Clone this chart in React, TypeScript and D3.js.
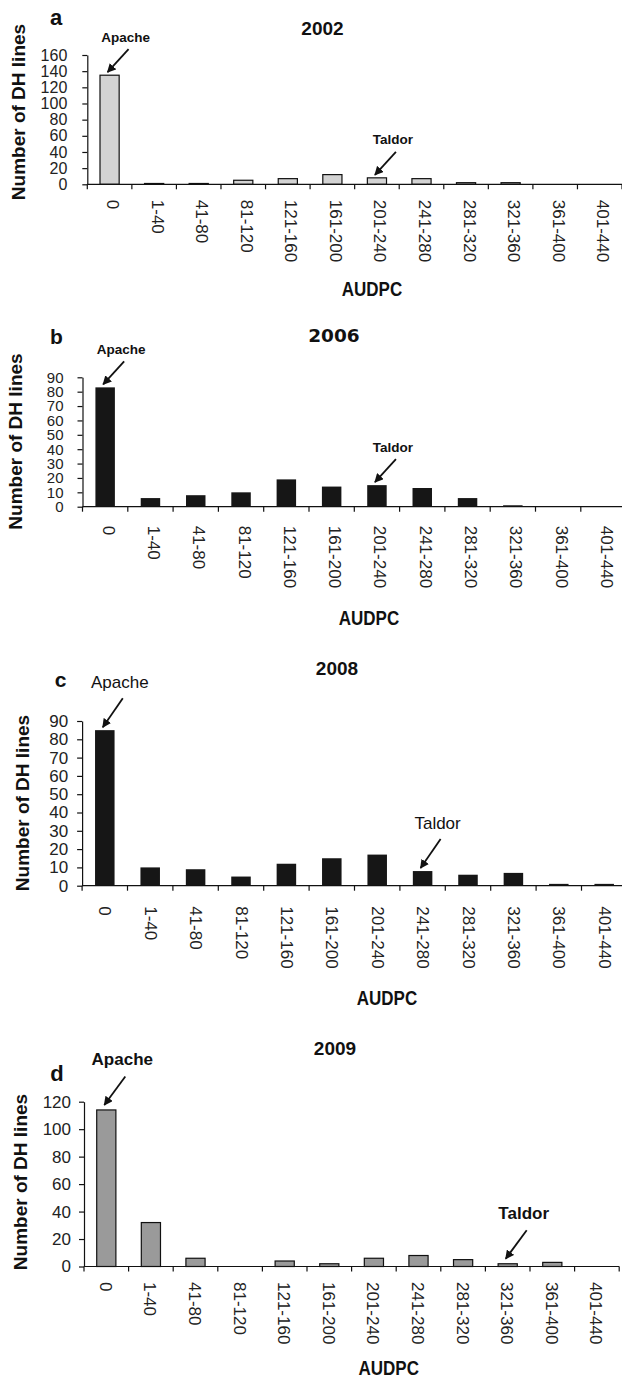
import React, { useEffect, useRef } from 'react';
import * as d3 from 'd3';

const categories = ['0', '1-40', '41-80', '81-120', '121-160', '161-200', '201-240', '241-280', '281-320', '321-360', '361-400', '401-440'];

const counts2002 = [135, 1, 1, 5, 7, 12, 8, 7, 2, 2, 0, 0];
const counts2006 = [83, 6, 8, 10, 19, 14, 15, 13, 6, 1, 0, 0];
const counts2008 = [85, 10, 9, 5, 12, 15, 17, 8, 6, 7, 1, 1];
const counts2009 = [114, 32, 6, 0, 4, 2, 6, 8, 5, 2, 3, 0];

const ticks2002 = [0, 20, 40, 60, 80, 100, 120, 140, 160];
const ticks2006 = [0, 10, 20, 30, 40, 50, 60, 70, 80, 90];
const ticks2008 = [0, 10, 20, 30, 40, 50, 60, 70, 80, 90];
const ticks2009 = [0, 20, 40, 60, 80, 100, 120];

const panelLetters = ['a', 'b', 'c', 'd'];
const years = ['2002', '2006', '2008', '2009'];
const taldorIndex = [6, 6, 7, 9];

const FONT = "'Liberation Sans', Arial, sans-serif";

// layout / styling per panel (pixels)
const panels = [
  {
    values: counts2002, ticks: ticks2002, fill: '#d3d3d3', stroke: '#111',
    left: 87.3, band: 44.56, y0: 184.3, yTop: 55, tickPad: 15, tickFont: 16, labelGap: 15.5, labelOff: 3,
    letterX: 56, letterY: 25, letterSize: 22,
    titleX: 322.5, titleY: 35, titleFont: FONT, titleSize: 19,
    annoWeight: 'bold', annoSize: 13.5, arrowDx: 21, arrowDy: 23, tipGap: 3, textGap: 12,
    axisX: 372, axisY: 289, yLabX: 18.3, yLabY: 112,
  },
  {
    values: counts2006, ticks: ticks2006, fill: '#161616', stroke: 'none',
    left: 82.5, band: 45.3, y0: 506.7, yTop: 377.3, tickPad: 14, tickFont: 15, labelGap: 19, labelOff: 3,
    letterX: 56.5, letterY: 344, letterSize: 21,
    titleX: 334, titleY: 341.5, titleFont: "'DejaVu Sans', sans-serif", titleSize: 18.5,
    annoWeight: 'bold', annoSize: 13.5, arrowDx: 21, arrowDy: 23, tipGap: 3, textGap: 12,
    axisX: 369, axisY: 617.5, yLabX: 15, yLabY: 441.5,
  },
  {
    values: counts2008, ticks: ticks2008, fill: '#161616', stroke: 'none',
    left: 82.1, band: 45.4, y0: 885.7, yTop: 721, tickPad: 9, tickFont: 17, labelGap: 20.5, labelOff: 0,
    letterX: 60.5, letterY: 686.5, letterSize: 21,
    titleX: 337, titleY: 675, titleFont: FONT, titleSize: 19,
    annoWeight: 'normal', annoSize: 17, arrowDx: 20, arrowDy: 29, tipGap: 3, textGap: 16,
    axisX: 387, axisY: 998, yLabX: 22, yLabY: 803,
  },
  {
    values: counts2009, ticks: ticks2009, fill: '#9a9a9a', stroke: '#111',
    left: 84, band: 44.6, y0: 1266.5, yTop: 1101.7, tickPad: 8, tickFont: 17, labelGap: 15.5, labelOff: -1,
    letterX: 57, letterY: 1080.5, letterSize: 22,
    titleX: 335, titleY: 1055, titleFont: FONT, titleSize: 19,
    annoWeight: 'bold', annoSize: 17, arrowDx: 21, arrowDy: 28.5, tipGap: 5, textGap: 16.5,
    axisX: 388.7, axisY: 1367.5, yLabX: 20, yLabY: 1182,
  },
];

export default function App() {
  const ref = useRef<SVGSVGElement>(null);

  useEffect(() => {
    const svg = d3.select(ref.current);
    svg.selectAll('*').remove();

    svg.append('defs')
      .append('marker')
      .attr('id', 'arrowhead')
      .attr('viewBox', '0 0 10 10')
      .attr('refX', 9)
      .attr('refY', 5)
      .attr('markerUnits', 'userSpaceOnUse')
      .attr('markerWidth', 9)
      .attr('markerHeight', 9)
      .attr('orient', 'auto')
      .append('path')
      .attr('d', 'M0,0 L10,5 L0,10 z')
      .attr('fill', '#111');

    panels.forEach((p, pi) => {
      const g = svg.append('g');
      const yMax = p.ticks[p.ticks.length - 1];

      const x = d3.scaleBand<string>()
        .domain(categories)
        .range([p.left, p.left + p.band * categories.length])
        .paddingInner(0)
        .paddingOuter(0);
      const y = d3.scaleLinear().domain([0, yMax]).range([p.y0, p.yTop]);
      const bw = x.bandwidth() * 0.43;

      // bars
      g.selectAll('rect.bar')
        .data(p.values)
        .enter()
        .append('rect')
        .attr('class', 'bar')
        .attr('x', (_, i) => (x(categories[i]) as number) + (x.bandwidth() - bw) / 2)
        .attr('width', bw)
        .attr('y', (d) => y(d))
        .attr('height', (d) => p.y0 - y(d))
        .attr('fill', p.fill)
        .attr('stroke', p.stroke)
        .attr('stroke-width', 1.2);

      // y axis
      const yAxis = g.append('g')
        .attr('transform', `translate(${p.left},0)`)
        .call(d3.axisLeft(y).tickValues(p.ticks).tickSize(5).tickSizeOuter(0).tickPadding(p.tickPad));
      yAxis.select('.domain').attr('stroke', '#111').attr('stroke-width', 1.2);
      yAxis.selectAll('line').attr('stroke', '#111').attr('stroke-width', 1.2);
      yAxis.selectAll('text')
        .attr('font-family', FONT)
        .attr('font-size', p.tickFont)
        .attr('fill', '#222');

      // x axis line + boundary ticks
      const right = p.left + x.step() * categories.length;
      g.append('line')
        .attr('x1', p.left).attr('x2', right)
        .attr('y1', p.y0).attr('y2', p.y0)
        .attr('stroke', '#111').attr('stroke-width', 1.2);
      g.selectAll('line.xtick')
        .data(d3.range(categories.length + 1))
        .enter()
        .append('line')
        .attr('class', 'xtick')
        .attr('x1', (i) => p.left + i * x.step())
        .attr('x2', (i) => p.left + i * x.step())
        .attr('y1', p.y0)
        .attr('y2', p.y0 + 5)
        .attr('stroke', '#111').attr('stroke-width', 1.2);

      // x labels, rotated
      g.selectAll('text.xlab')
        .data(categories)
        .enter()
        .append('text')
        .attr('class', 'xlab')
        .attr('transform', (c) => `translate(${(x(c) as number) + x.bandwidth() / 2 + p.labelOff},${p.y0 + p.labelGap}) rotate(90)`)
        .attr('text-anchor', 'start')
        .attr('dominant-baseline', 'central')
        .attr('font-family', FONT)
        .attr('font-size', 17)
        .attr('fill', '#222')
        .text((c) => c);

      // axis titles
      g.append('text')
        .attr('transform', `translate(${p.axisX},${p.axisY}) scale(0.85,1)`)
        .attr('text-anchor', 'middle')
        .attr('dominant-baseline', 'central')
        .attr('font-family', FONT)
        .attr('font-weight', 'bold')
        .attr('font-size', 20)
        .attr('fill', '#111')
        .text('AUDPC');

      g.append('text')
        .attr('transform', `translate(${p.yLabX},${p.yLabY}) rotate(-90)`)
        .attr('text-anchor', 'middle')
        .attr('dominant-baseline', 'central')
        .attr('font-family', FONT)
        .attr('font-weight', 'bold')
        .attr('font-size', 19)
        .attr('fill', '#111')
        .text('Number of DH lines');

      // panel letter and year
      g.append('text')
        .attr('x', p.letterX).attr('y', p.letterY)
        .attr('text-anchor', 'middle')
        .attr('font-family', FONT)
        .attr('font-weight', 'bold')
        .attr('font-size', p.letterSize)
        .attr('fill', '#111')
        .text(panelLetters[pi]);

      g.append('text')
        .attr('x', p.titleX).attr('y', p.titleY)
        .attr('text-anchor', 'middle')
        .attr('font-family', p.titleFont)
        .attr('font-weight', 'bold')
        .attr('font-size', p.titleSize)
        .attr('fill', '#111')
        .text(years[pi]);

      // Apache / Taldor annotations
      const annos = [
        { idx: 0, label: 'Apache' },
        { idx: taldorIndex[pi], label: 'Taldor' },
      ];
      annos.forEach((a) => {
        const cx = (x(categories[a.idx]) as number) + x.bandwidth() / 2 - 2;
        const tipY = y(p.values[a.idx]) - p.tipGap;
        const sx = cx + p.arrowDx;
        const sy = tipY - p.arrowDy;
        g.append('line')
          .attr('x1', sx).attr('y1', sy)
          .attr('x2', cx).attr('y2', tipY)
          .attr('stroke', '#111')
          .attr('stroke-width', 1.8)
          .attr('marker-end', 'url(#arrowhead)');
        g.append('text')
          .attr('x', sx - 3)
          .attr('y', sy - p.textGap)
          .attr('text-anchor', 'middle')
          .attr('dominant-baseline', 'central')
          .attr('font-family', FONT)
          .attr('font-weight', p.annoWeight)
          .attr('font-size', p.annoSize)
          .attr('fill', '#111')
          .text(a.label);
      });
    });
  }, []);

  return (
    <svg
      ref={ref}
      width={622}
      height={1378}
      style={{ position: 'absolute', left: 0, top: 0, background: '#fff' }}
    />
  );
}
